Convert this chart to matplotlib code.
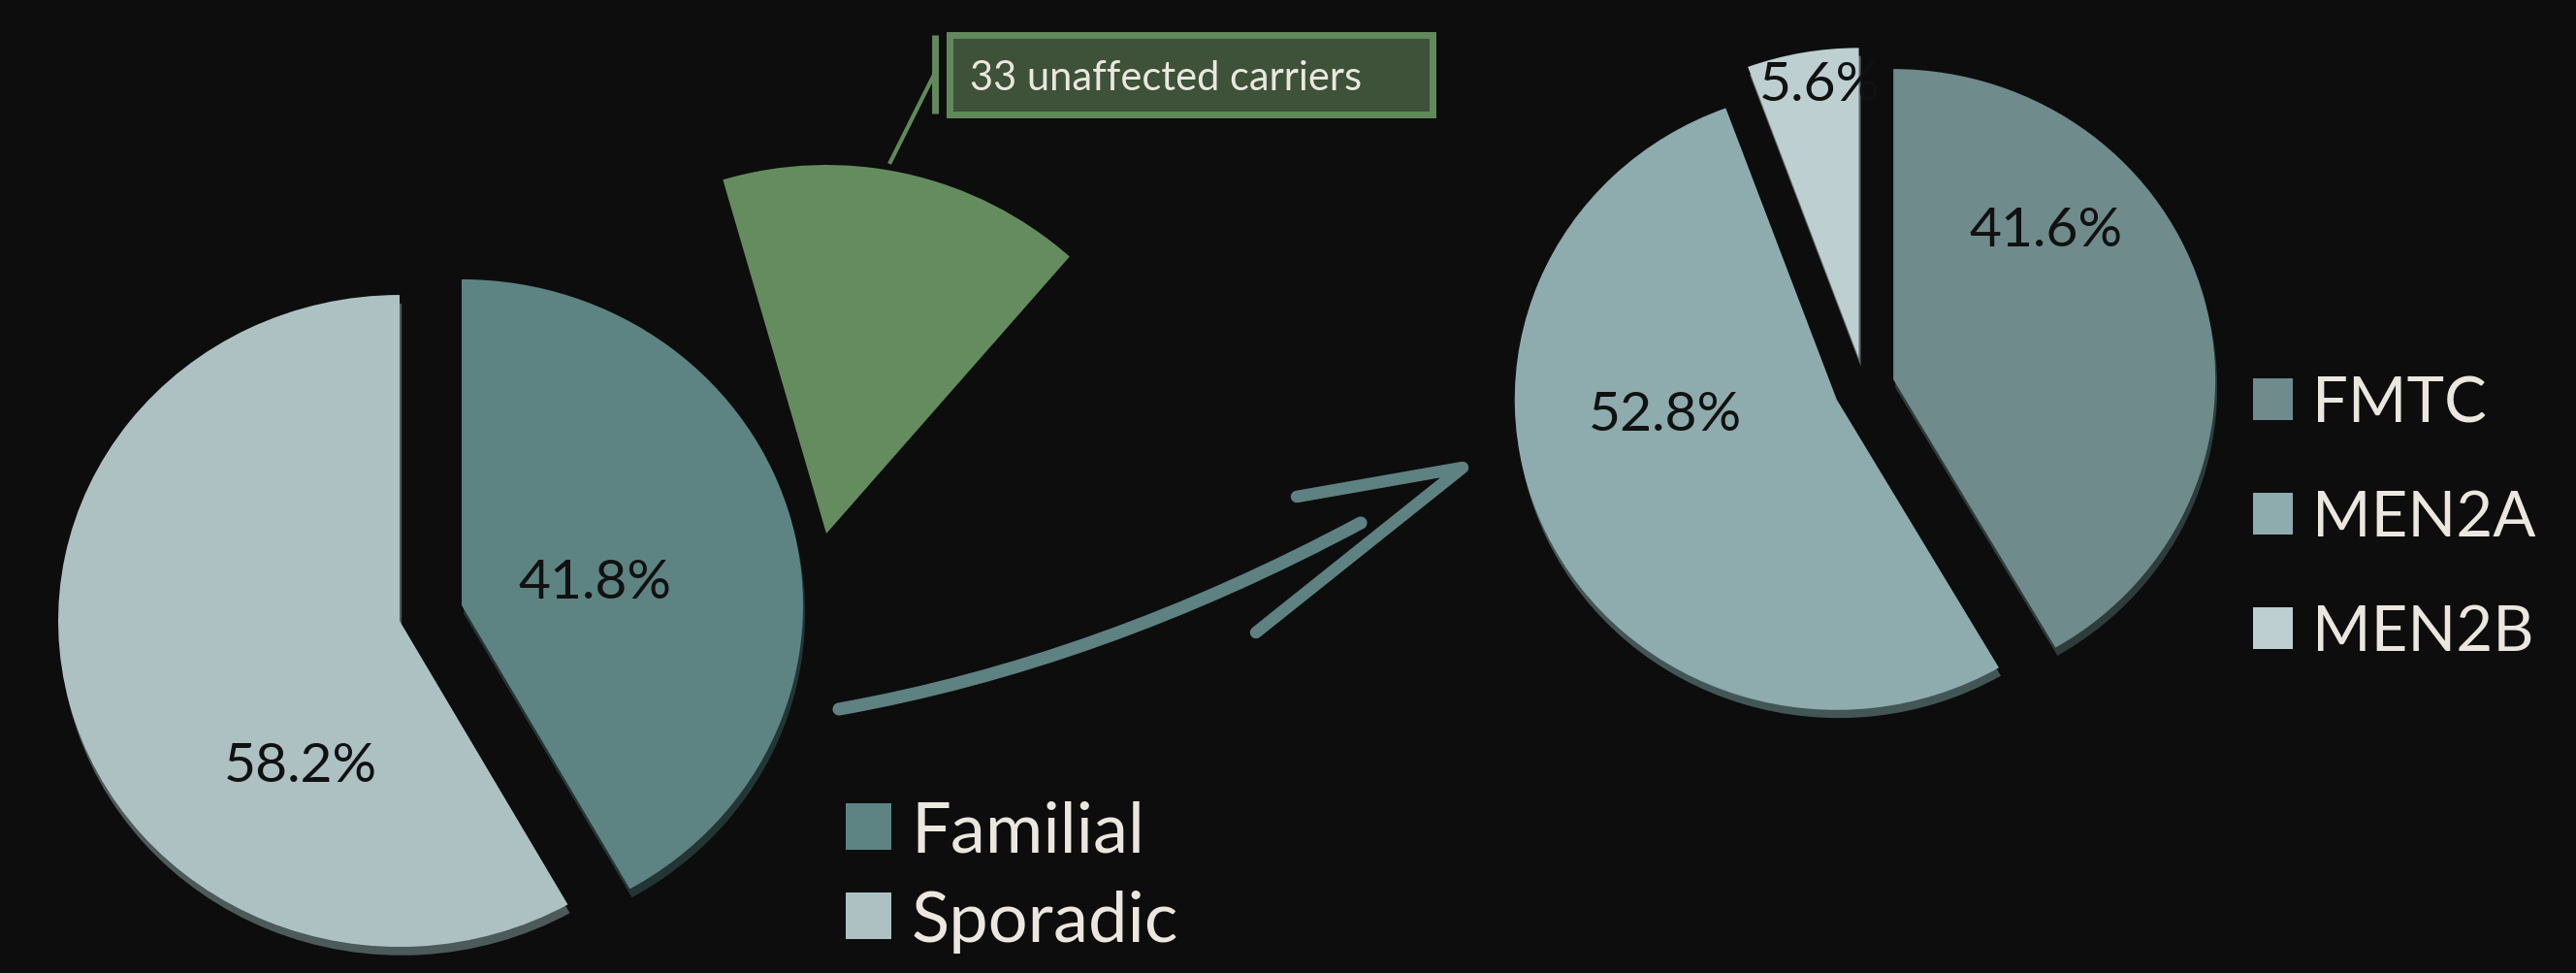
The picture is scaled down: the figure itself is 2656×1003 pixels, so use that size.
import matplotlib
matplotlib.use("Agg")
import matplotlib.pyplot as plt
from matplotlib.patches import Rectangle, PathPatch
from matplotlib.path import Path

# data
origin_labels = ["Familial", "Sporadic"]
origin_pct = [41.8, 58.2]
subtype_labels = ["FMTC", "MEN2A", "MEN2B"]
subtype_pct = [41.6, 52.8, 5.6]
carrier_note = "33 unaffected carriers"
carrier_share = [16, 84]   # the green wedge cut out of the familial group

# styling
W, H = 2656, 1004
bg = "#0d0d0d"
origin_colors = ["#5e8383", "#adc1c3"]
origin_shadow = ["#233535", "#4c5a5a"]
subtype_colors = ["#6f8b8b", "#8eabad", "#bdcfd0"]
subtype_shadow = ["#2e3c3c", "#435656", "#5a6868"]
green = "#658c5f"
arrow_c = "#5e8181"
txt_c = "#ebe7df"

plt.rcParams["font.family"] = ["Lato", "DejaVu Sans"]

fig = plt.figure(figsize=(W / 100, H / 100), dpi=100, facecolor=bg)

# background axes in pixel coords (y down) for the arrow and callout
base = fig.add_axes([0, 0, 1, 1])
base.set_xlim(0, W)
base.set_ylim(H, 0)
base.axis("off")


def pie_axes(cx, cy, rx, ry, lim=1.3):
    return fig.add_axes([(cx - lim * rx) / W, (H - cy - lim * ry) / H,
                         2 * lim * rx / W, 2 * lim * ry / H])


def finish(ax, lim=1.3):
    ax.set_aspect("auto")
    ax.set_xlim(-lim, lim)
    ax.set_ylim(-lim, lim)
    ax.axis("off")


# curved arrow between the two pies
shaft = Path([(865, 732), (1134, 684), (1403, 540)],
             [Path.MOVETO, Path.CURVE3, Path.CURVE3])
base.add_patch(PathPatch(shaft, fill=False, ec=arrow_c, lw=9.5, capstyle="round"))
base.plot([1337, 1508, 1295], [513, 483, 653], color=arrow_c, lw=9,
          solid_joinstyle="round", solid_capstyle="round")

# callout box
base.add_patch(Rectangle((978.5, 36.5), 498, 82, fc="#3d5239", ec="#61895b", lw=5))
base.text(1000, 93, carrier_note, fontsize=30, color=txt_c, va="baseline", ha="left")
base.plot([918, 962], [168, 80], color="#61895b", lw=3)
base.plot([963.5, 963.5], [37, 118], color="#61895b", lw=5, solid_capstyle="butt")

# green wedge (unaffected carriers)
axg = pie_axes(852, 551, 380, 380, lim=1.1)
axg.pie(carrier_share, colors=[green, "none"], startangle=106.3, counterclock=False,
        wedgeprops=dict(linewidth=0))
finish(axg, lim=1.1)

# left pie: familial vs sporadic
axl = pie_axes(444, 633, 352, 336)
axl.pie(origin_pct, explode=[0.094, 0.094], colors=origin_shadow, startangle=90,
        counterclock=False, center=(0.006, -0.026), wedgeprops=dict(linewidth=0))
wl, _, tl = axl.pie(origin_pct, explode=[0.094, 0.094], colors=origin_colors,
                    startangle=90, counterclock=False, autopct="%.1f%%",
                    wedgeprops=dict(linewidth=0),
                    textprops=dict(fontsize=41, color="#111111"))
left_label_pos = [(0.48, 0.095), (-0.381, -0.47)]
for t, p in zip(tl, left_label_pos):
    t.set_position(p)
finish(axl)

# right pie: FMTC / MEN2A / MEN2B
axr = pie_axes(1922, 400, 332, 320)
axr.pie(subtype_pct, explode=[0.094] * 3, colors=subtype_shadow, startangle=90,
        counterclock=False, center=(0.006, -0.026), wedgeprops=dict(linewidth=0))
wr, _, tr = axr.pie(subtype_pct, explode=[0.094] * 3, colors=subtype_colors,
                    startangle=90, counterclock=False, autopct="%.1f%%",
                    wedgeprops=dict(linewidth=0),
                    textprops=dict(fontsize=41, color="#111111"))
right_label_pos = [(0.566, 0.506), (-0.617, -0.0875), (-0.136, 0.975)]
for t, p in zip(tr, right_label_pos):
    t.set_position(p)
finish(axr)

# legends
fig.legend(wl, origin_labels, loc="center left", bbox_to_anchor=(872 / W, 1 - 904 / H),
           frameon=False, fontsize=52, labelcolor=txt_c, borderpad=0, borderaxespad=0,
           handlelength=0.65, handleheight=0.65, handletextpad=0.28, labelspacing=0.38)
fig.legend(wr, subtype_labels, loc="center left", bbox_to_anchor=(2323 / W, 1 - 535 / H),
           frameon=False, fontsize=47, labelcolor=txt_c, borderpad=0, borderaxespad=0,
           handlelength=0.63, handleheight=0.63, handletextpad=0.3, labelspacing=0.9)

fig.savefig("out.png", dpi=100, facecolor=bg)
